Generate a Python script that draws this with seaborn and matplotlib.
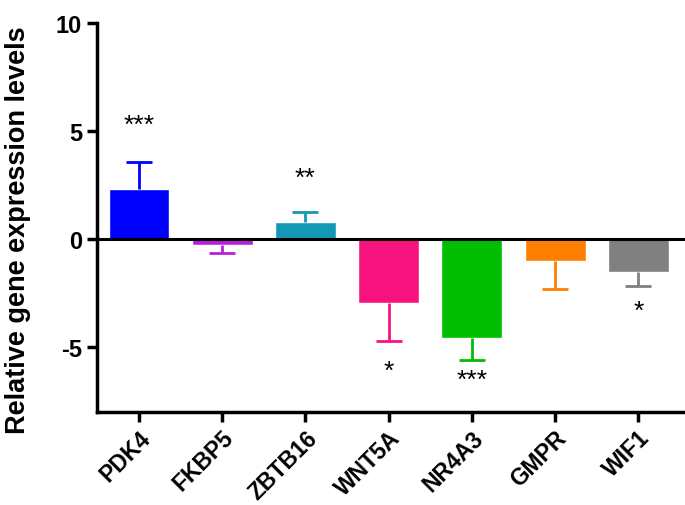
import matplotlib
matplotlib.use("Agg")
import matplotlib.pyplot as plt
import numpy as np
import pandas as pd
import seaborn as sns

# data
genes = ["PDK4", "FKBP5", "ZBTB16", "WNT5A", "NR4A3", "GMPR", "WIF1"]
values = [2.31, -0.28, 0.78, -2.96, -4.58, -1.0, -1.54]
errors = [1.25, 0.37, 0.47, 1.76, 1.02, 1.31, 0.63]
colors = ["#0000FF", "#B81FDC", "#1499B4", "#F7137F", "#00BE00", "#FF8000", "#808080"]
stars = ["***", "", "**", "*", "***", "", "*"]
star_y = [5.28, 0, 2.82, -6.11, -6.53, 0, -3.33]

df = pd.DataFrame({"gene": genes, "value": values, "err": errors})

sns.set_style("ticks")
plt.rcParams["font.family"] = ["Liberation Sans", "DejaVu Sans"]
plt.rcParams["text.color"] = "black"

fig = plt.figure(figsize=(6.85, 5.06), dpi=100)
ax = fig.add_axes([0.142, 0.184, 0.858, 0.769])

sns.barplot(data=df, x="gene", y="value", hue="gene", palette=colors,
            width=0.73, legend=False, ax=ax, saturation=1)

# one-sided error bars, pointing away from zero
for i, (v, e, c) in enumerate(zip(values, errors, colors)):
    lo, hi = (0, e) if v >= 0 else (e, 0)
    eb = ax.errorbar(i, v, yerr=[[lo], [hi]], fmt="none", ecolor=c,
                     elinewidth=2, capsize=9.7, capthick=2, zorder=3)
    caps = eb[1]
    # hide the cap sitting on the bar end
    if v >= 0:
        caps[0].set_visible(False)
    else:
        caps[1].set_visible(False)

for i, s in enumerate(stars):
    if s:
        ax.text(i, star_y[i], s, ha="center", va="center", fontsize=19, color="black")

ax.axhline(0, color="black", lw=2.2, zorder=4)

ax.set_xlim(-0.5, 6.56)
ax.set_ylim(-8, 10)
ax.set_yticks([-5, 0, 5, 10])
ax.set_yticklabels(["-5", "0", "5", "10"], fontsize=17, fontweight="bold")
ax.set_xticks(range(len(genes)))
ax.set_xticklabels(genes, rotation=45, ha="right", rotation_mode="anchor",
                   fontsize=16.5, fontweight="bold")
ax.set_xlabel("")
ax.set_ylabel("Relative gene expression levels", fontsize=19.5, fontweight="bold",
              color="black")
ax.yaxis.set_label_coords(-0.112, 0.47)

sns.despine(ax=ax, right=True, top=True)
for sp in ["left", "bottom"]:
    ax.spines[sp].set_linewidth(2.5)
    ax.spines[sp].set_color("black")
ax.tick_params(axis="both", width=2.5, length=7, direction="out", colors="black", pad=4)
ax.tick_params(axis="x", pad=3)

fig.savefig("out.png", dpi=100)
